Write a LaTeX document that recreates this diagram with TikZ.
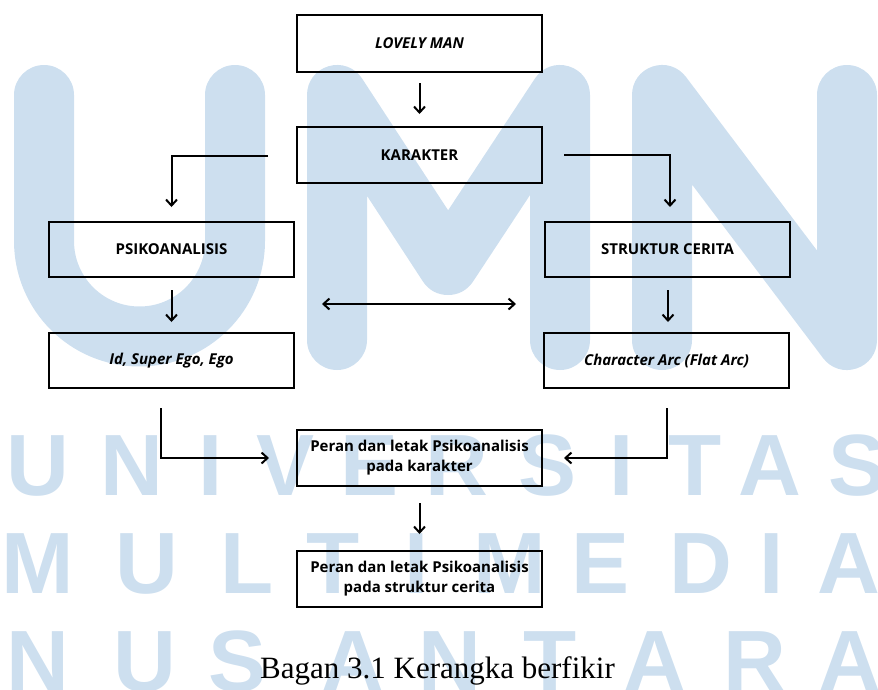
\documentclass[tikz,border=0pt]{standalone}
\usepackage{fontspec}
\newfontfamily\boxfont{Open Sans}
\newfontfamily\capfont{Liberation Serif}
\newfontfamily\wmfont{Liberation Sans}
\usetikzlibrary{arrows.meta}
\definecolor{wm}{RGB}{205,223,239}
\tikzset{
  box/.style={draw=black, line width=2pt, minimum width=245pt, inner sep=0pt, align=center, font=\boxfont\bfseries\fontsize{15}{20}\selectfont},
  conn/.style={line width=2pt, -{Straight Barb[length=6pt,width=11pt,line width=2pt]}},
  dconn/.style={line width=2pt, {Straight Barb[length=6pt,width=11pt,line width=2pt]}-{Straight Barb[length=6pt,width=11pt,line width=2pt]}},
  wmbig/.style={draw=wm, line width=60pt, line cap=round, line join=round},
  wmletter/.style={text=wm, anchor=base, inner sep=0pt, font=\wmfont\bfseries\fontsize{87}{87}\selectfont},
}
\begin{document}
\begin{tikzpicture}[x=1pt,y=-1pt]
\useasboundingbox (0,0) rectangle (878,689);
% watermark
\draw[wmbig] (44,95) -- (44,241) arc[start angle=180, end angle=0, radius=95.5] -- (235,95);
\draw[wmbig] (337,340) -- (337,95) -- (448,265) -- (560,95) -- (560,340);
\draw[wmbig] (662,340) -- (662,95) -- (847,340) -- (847,95);
\foreach \l/\x in {U/38,N/132,I/211,V/286,E/370,R/457,S/548,I/622,T/695,A/770,S/858}
  \node[wmletter] at (\x,495) {\l};
\foreach \l/\x in {M/38,U/147,L/247,T/333,I/417,M/510,E/601,D/701,I/772,A/849}
  \node[wmletter] at (\x,593) {\l};
\foreach \l/\x in {N/38,U/145,S/238,A/353,N/450,T/550,A/655,R/755,A/850}
  \node[wmletter] at (\x,691) {\l};
% boxes
\node[box, minimum height=57pt] (lm) at (419.5,43.5) {\itshape LOVELY MAN};
\node[box, minimum height=56pt] (kar) at (419.5,155) {KARAKTER};
\node[box, minimum height=55pt] (psi) at (171.5,249.5) {PSIKOANALISIS};
\node[box, minimum height=55pt] (str) at (667.5,249.5) {STRUKTUR CERITA};
\node[box, minimum height=55pt] (id) at (171.5,360.5) {\itshape Id, Super Ego, Ego};
\node[box, minimum height=55pt] (arc) at (666.5,360.5) {\itshape Character Arc (Flat Arc)};
\node[box, minimum height=56pt] (p1) at (419.5,458) {Peran dan letak Psikoanalisis\\pada karakter};
\node[box, minimum height=56pt] (p2) at (419.5,579) {Peran dan letak Psikoanalisis\\pada struktur cerita};
% connector helper points
\coordinate (kl) at (268,156);
\coordinate (kr) at (564,155);
\coordinate (dl) at (322,304);
\coordinate (dr) at (516,304);
\coordinate (il) at (161,408);
\coordinate (ar) at (667,408);
% connectors
\draw[conn, shorten <=10pt, shorten >=12pt] (lm.south) -- (kar.north);
\draw[conn, shorten >=14pt] (kl) -| (psi.north);
\draw[conn, shorten >=14pt] (kr) -| ([xshift=2.5pt]str.north);
\draw[conn, shorten <=12pt, shorten >=10pt] (psi.south) -- (id.north);
\draw[conn, shorten <=12pt, shorten >=10pt] ([xshift=0.5pt]str.south) -- ([xshift=1.5pt]arc.north);
\draw[dconn] (dl) -- (dr);
\draw[conn, shorten >=27pt] (il) |- (p1.west);
\draw[conn, shorten >=21pt] (ar) |- (p1.east);
\draw[conn, shorten <=16pt, shorten >=16pt] (p1.south) -- (p2.north);
% caption
\node[anchor=base, inner sep=0pt, font=\capfont\fontsize{31}{31}\selectfont] (cap) at (437.5,678) {Bagan 3.1 Kerangka berfikir};
\end{tikzpicture}
\end{document}
